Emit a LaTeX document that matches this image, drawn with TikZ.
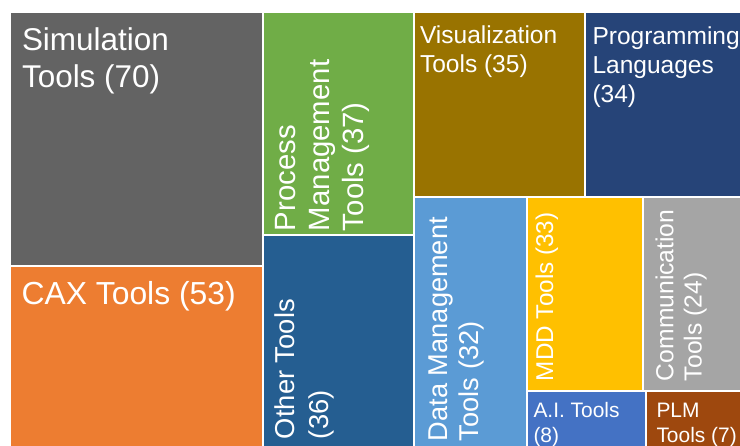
\documentclass[tikz,border=0pt]{standalone}
\usepackage{fontspec}
\setmainfont{Liberation Sans}
\definecolor{simgray}{HTML}{636363}
\definecolor{caxorange}{HTML}{ED7D31}
\definecolor{procgreen}{HTML}{70AD47}
\definecolor{otherblue}{HTML}{255E91}
\definecolor{visgold}{HTML}{997300}
\definecolor{progblue}{HTML}{264478}
\definecolor{datablue}{HTML}{5B9BD5}
\definecolor{mddyellow}{HTML}{FFC000}
\definecolor{commgray}{HTML}{A5A5A5}
\definecolor{aiblue}{HTML}{4472C4}
\definecolor{plmbrown}{HTML}{9E480E}
\tikzset{every picture/.style={line width=0.75pt}}
\tikzset{
  tile/.style={draw=white, line width=1.5pt},
  lbl/.style={anchor=north west, inner sep=0pt, text=white, align=left},
  vlbl/.style={lbl, rotate=90}
}

\begin{document}
\begin{tikzpicture}[x=0.75pt,y=0.75pt,yscale=-1,xscale=1]
        \useasboundingbox (0,0) rectangle (740,446);
        \clip (0,0) rectangle (740,446);

        %Shape: Rectangle [Simulation]
        \draw [tile, fill=simgray] (9.7,11.7) rectangle (262.8,266) ;
        %Shape: Rectangle [CAX]
        \draw [tile, fill=caxorange] (9.7,266) rectangle (262.8,450) ;
        %Shape: Rectangle [Process]
        \draw [tile, fill=procgreen] (262.8,11.7) rectangle (413.5,235.2) ;
        %Shape: Rectangle [Other]
        \draw [tile, fill=otherblue] (262.8,235.2) rectangle (413.5,450) ;
        %Shape: Rectangle [Visualization]
        \draw [tile, fill=visgold] (413.5,11.7) rectangle (584.9,197) ;
        %Shape: Rectangle [Programming]
        \draw [tile, fill=progblue] (584.9,11.7) rectangle (745,197) ;
        %Shape: Rectangle [Data]
        \draw [tile, fill=datablue] (413.5,197) rectangle (526.7,450) ;
        %Shape: Rectangle [MDD]
        \draw [tile, fill=mddyellow] (526.7,197) rectangle (643,391) ;
        %Shape: Rectangle [Communication]
        \draw [tile, fill=commgray] (643,197) rectangle (745,391) ;
        %Shape: Rectangle [A.I.]
        \draw [tile, fill=aiblue] (526.7,391) rectangle (646.3,450) ;
        %Shape: Rectangle [PLM]
        \draw [tile, fill=plmbrown] (646.3,391) rectangle (745,450) ;

        % Text Node
        \draw (21.5,27.3) node [lbl, font=\fontsize{23.6}{27.5}\selectfont] (sim) {Simulation\\Tools (70)};
        % Text Node
        \draw (21,280.5) node [lbl, font=\fontsize{23.9}{27.5}\selectfont] (cax) {CAX Tools (53)};
        % Text Node
        \draw (274.5,231.5) node [vlbl, font=\fontsize{22}{25.5}\selectfont] (proc) {Process\\Management\\Tools (37)};
        % Text Node
        \draw (274,439.5) node [vlbl, font=\fontsize{20.5}{26}\selectfont] (other) {Other Tools\\(36)};
        % Text Node
        \draw (419.5,25) node [lbl, font=\fontsize{18.4}{22}\selectfont] (vis) {Visualization\\Tools (35)};
        % Text Node
        \draw (592,26) node [lbl, font=\fontsize{18.4}{22}\selectfont] (prog) {Programming\\Languages\\(34)};
        % Text Node
        \draw (427.8,441.5) node [vlbl, font=\fontsize{20.4}{23.75}\selectfont] (data) {Data Management\\Tools (32)};
        % Text Node
        \draw (535,381.5) node [vlbl, font=\fontsize{18.2}{22}\selectfont] (mdd) {MDD Tools (33)};
        % Text Node
        \draw (655,381.5) node [vlbl, font=\fontsize{18.5}{21.25}\selectfont] (comm) {Communication\\Tools (24)};
        % Text Node
        \draw (533,402.3) node [lbl, font=\fontsize{15.7}{18.75}\selectfont] (ai) {A.I. Tools\\(8)};
        % Text Node
        \draw (656,402.3) node [lbl, font=\fontsize{15.7}{18.75}\selectfont] (plm) {PLM\\Tools (7)};

\end{tikzpicture}
\end{document}
